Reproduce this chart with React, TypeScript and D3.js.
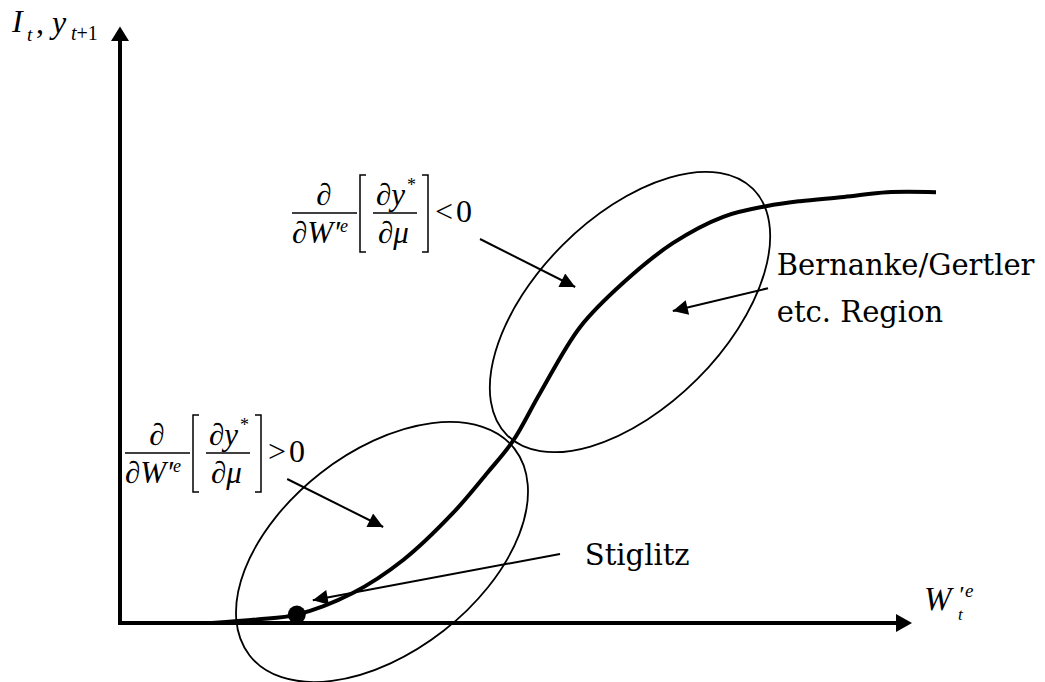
import React from "react";
import * as d3 from "d3";

// ---- data (abstract units: x 0..100, y 0..100) ----
const curveX = [11.5, 17.1, 22.1, 29.1, 35.4, 41.6, 45.9, 49.1, 52.5, 57.5, 62.9, 69.1, 75.4, 80.9, 85.0, 90.5, 95.9, 102];
const curveY = [0.0, 0.6, 1.4, 5.0, 10.5, 18.3, 25.0, 30.3, 38.3, 49.3, 56.7, 63.3, 67.7, 69.5, 70.3, 71.0, 71.8, 71.8];
const stiglitzPoint = [22.1, 1.4];

// ellipses: center (data units), semi-axes (px), tilt (deg)
const ellipseCx = [63.75, 32.75];
const ellipseCy = [51.83, 11.83];
const ellipseRx = [174, 168];
const ellipseRy = [95, 100];
const ellipseTilt = [-45, -38];

// arrows: from -> to (data units)
const arrowFromX = [45.0, 20.9, 55.0, 81.0];
const arrowFromY = [64.0, 24.0, 11.5, 55.8];
const arrowToX = [56.9, 32.9, 24.1, 69.1];
const arrowToY = [56.0, 16.0, 3.8, 52.0];

// formulas: anchor (data units) and relation
const formulaX = [21.5, 0.625];
const formulaY = [68.33, 28.33];
const formulaRel = ["<", ">"];

const labelTexts = ["Stiglitz", "Bernanke/Gertler", "etc. Region"];
const labelX = [58.1, 82.1, 82.1];
const labelY = [9.6, 58.0, 50.2];

const W = 1045;
const H = 682;
const x = d3.scaleLinear().domain([0, 100]).range([120, 920]);
const y = d3.scaleLinear().domain([0, 100]).range([623, 23]);

const MATH = "Liberation Serif, DejaVu Serif, serif";
const LABEL = "DejaVu Serif, serif";

function Formula({ x0, y0, rel }: { x0: number; y0: number; rel: string }) {
  const fs = 31;
  return (
    <g style={{ fontFamily: MATH }} fill="#000">
      <text x={x0 + 32} y={y0 - 8} fontSize={fs} textAnchor="middle" fontStyle="italic">∂</text>
      <line x1={x0} x2={x0 + 65} y1={y0} y2={y0} stroke="#000" strokeWidth={1.5} />
      <text x={x0} y={y0 + 30} fontSize={fs} fontStyle="italic">
        <tspan>∂</tspan>
        <tspan>W</tspan>
        <tspan>′</tspan>
        <tspan fontSize={18} dy={-11}>e</tspan>
      </text>
      <path d={`M${x0 + 74},${y0 - 38}H${x0 + 68}V${y0 + 39}H${x0 + 74}`} fill="none" stroke="#000" strokeWidth={1.5} />
      <line x1={x0 + 81} x2={x0 + 125} y1={y0} y2={y0} stroke="#000" strokeWidth={1.5} />
      <text x={x0 + 84} y={y0 - 8} fontSize={fs} fontStyle="italic">∂y</text>
      <text x={x0 + 115} y={y0 - 22} fontSize={18}>*</text>
      <text x={x0 + 86} y={y0 + 30} fontSize={fs} fontStyle="italic">∂μ</text>
      <path d={`M${x0 + 130},${y0 - 38}H${x0 + 136}V${y0 + 39}H${x0 + 130}`} fill="none" stroke="#000" strokeWidth={1.5} />
      <text x={x0 + 143} y={y0 + 9} fontSize={32}>{rel}</text>
      <text x={x0 + 164} y={y0 + 9} fontSize={32}>0</text>
    </g>
  );
}

export default function App() {
  const pts: [number, number][] = curveX.map((v, i) => [v, curveY[i]]);
  const line = d3
    .line<[number, number]>()
    .x((d) => x(d[0]))
    .y((d) => y(d[1]))
    .curve(d3.curveCatmullRom.alpha(0.5));

  const x0 = x(0);
  const yb = y(0);
  return (
    <svg width={W} height={H} style={{ position: "absolute", left: 0, top: 0, background: "#fff" }}>
      <defs>
        <marker id="ah" viewBox="0 0 10 10" refX={10} refY={5} markerWidth={18} markerHeight={15} markerUnits="userSpaceOnUse" orient="auto">
          <path d="M0,0L10,5L0,10Z" fill="#000" />
        </marker>
      </defs>
      <rect width={W} height={H} fill="#fff" />

      {/* axes */}
      <line x1={x0} x2={x0} y1={yb + 2} y2={y(98)} stroke="#000" strokeWidth={4} />
      <path d={`M${x0},${y(99.4)}L${x0 - 9},${y(97)}L${x0 + 9},${y(97)}Z`} fill="#000" />
      <line x1={x0 - 2} x2={x(97)} y1={yb} y2={yb} stroke="#000" strokeWidth={4} />
      <path d={`M${x(99)},${yb}L${x(97)},${yb - 9}L${x(97)},${yb + 9}Z`} fill="#000" />

      {/* ellipses */}
      {ellipseCx.map((cx, i) => (
        <ellipse
          key={i}
          cx={x(cx)}
          cy={y(ellipseCy[i])}
          rx={ellipseRx[i]}
          ry={ellipseRy[i]}
          transform={`rotate(${ellipseTilt[i]} ${x(cx)} ${y(ellipseCy[i])})`}
          fill="none"
          stroke="#000"
          strokeWidth={1.8}
        />
      ))}

      {/* curve */}
      <path d={line(pts) || ""} fill="none" stroke="#000" strokeWidth={4} />
      <circle cx={x(stiglitzPoint[0])} cy={y(stiglitzPoint[1])} r={9} fill="#000" />

      {/* arrows */}
      {arrowFromX.map((fx, i) => (
        <line
          key={i}
          x1={x(fx)}
          y1={y(arrowFromY[i])}
          x2={x(arrowToX[i])}
          y2={y(arrowToY[i])}
          stroke="#000"
          strokeWidth={2}
          markerEnd="url(#ah)"
        />
      ))}

      {/* formulas */}
      {formulaX.map((fx, i) => (
        <Formula key={i} x0={x(fx)} y0={y(formulaY[i])} rel={formulaRel[i]} />
      ))}

      {/* labels */}
      {labelTexts.map((t, i) => (
        <text key={i} x={x(labelX[i])} y={y(labelY[i])} style={{ fontFamily: LABEL }} fontSize={29} fill="#000">
          {t}
        </text>
      ))}

      {/* axis titles */}
      <g style={{ fontFamily: MATH }} fill="#000">
        <text x={12} y={32} fontSize={32} fontStyle="italic">I</text>
        <text x={27} y={41} fontSize={19} fontStyle="italic">t</text>
        <text x={36} y={33} fontSize={32}>,</text>
        <text x={52} y={33} fontSize={32} fontStyle="italic">y</text>
        <text x={71} y={40} fontSize={20}>
          <tspan fontStyle="italic">t</tspan>
          <tspan>+1</tspan>
        </text>

        <text x={924} y={610} fontSize={33} fontStyle="italic">W</text>
        <text x={958} y={602} fontSize={24} fontStyle="italic">′</text>
        <text x={965} y={597} fontSize={19} fontStyle="italic">e</text>
        <text x={958} y={620} fontSize={17} fontStyle="italic">t</text>
      </g>
    </svg>
  );
}
